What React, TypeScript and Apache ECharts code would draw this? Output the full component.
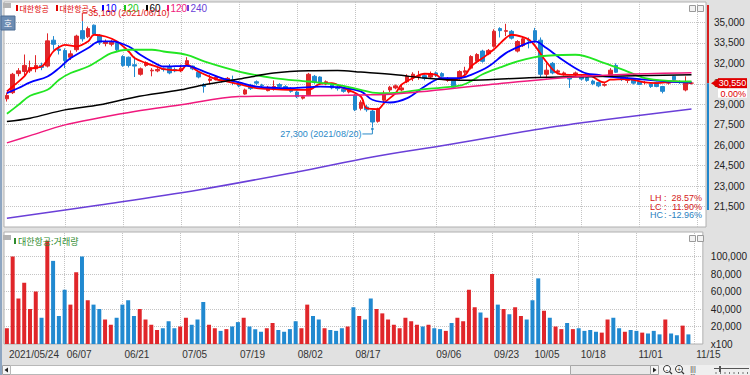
import React, { useEffect, useRef } from 'react';
import * as echarts from 'echarts';

// ---------------- DATA ----------------
const categories: string[] = [
  '05/24','05/25','05/26','05/27','05/28','05/31','06/01','06/02','06/03','06/04',
  '06/07','06/08','06/09','06/10','06/11','06/14','06/15','06/16','06/17','06/18',
  '06/21','06/22','06/23','06/24','06/25','06/28','06/29','06/30','07/01','07/02',
  '07/05','07/06','07/07','07/08','07/09','07/12','07/13','07/14','07/15','07/16',
  '07/19','07/20','07/21','07/22','07/23','07/26','07/27','07/28','07/29','07/30',
  '08/02','08/03','08/04','08/05','08/06','08/09','08/10','08/11','08/12','08/13',
  '08/17','08/18','08/19','08/20','08/23','08/24','08/25','08/26','08/27','08/30',
  '08/31','09/01','09/02','09/03','09/06','09/07','09/08','09/09','09/10','09/13',
  '09/14','09/15','09/16','09/17','09/23','09/24','09/27','09/28','09/29','09/30',
  '10/01','10/05','10/06','10/07','10/08','10/12','10/13','10/14','10/15','10/18',
  '10/19','10/20','10/21','10/22','10/25','10/26','10/27','10/28','10/29','11/01',
  '11/02','11/03','11/04','11/05','11/08','11/09','11/10','11/11','11/12','11/15',
  '11/16',
];
const tickDates = ['05/24','06/07','06/21','07/05','07/19','08/02','08/17','09/06','09/23','10/05','10/18','11/01','11/15'];
const firstTickLabel = '2021/05/24';
const yearPrefix = '2021/';

const opens = [
  29400,29850,31250,31400,31450,31600,31850,31800,33700,33050,
  32950,32450,33000,34400,33950,34800,34050,33450,33400,33500,
  32500,32450,31900,31200,31850,31450,31450,31600,31700,31550,
  31450,31950,31800,31350,30450,30750,30800,30850,30750,30800,
  30600,29750,30400,30650,30400,30000,30100,30450,30300,30150,
  29900,29450,29700,31050,31000,30500,30450,30200,30100,29900,
  29650,28700,28800,28500,27750,29300,30050,30200,30050,30650,
  30950,31050,31100,31000,31300,31250,30750,30750,30900,31350,
  31650,32150,32900,32700,33250,34550,34350,34350,32900,33300,
  33700,34400,33700,31200,32000,31350,31200,31050,31150,31050,
  30950,30700,30600,30400,31100,31850,30900,30750,30800,30650,
  30600,30500,30600,30300,30550,31050,30650,30050,30550,
];
const closes = [
  29650,31200,31450,31850,31700,31850,31700,33650,33400,32950,
  32200,32700,34000,33800,34550,34150,33550,33600,33550,33000,
  31850,31850,31800,31600,32050,31500,31550,31550,31300,31450,
  31650,32200,31600,31000,30300,30850,31000,30750,30900,30650,
  30350,30050,30150,30550,30350,30250,30300,30300,30150,29950,
  29550,29550,31200,30600,30550,30650,30200,30150,29950,30150,
  28600,29150,28600,27700,28650,29800,30250,30350,30200,31050,
  31200,31100,30900,31250,31150,31050,30900,30250,31400,31450,
  32500,32650,32150,32950,34350,34400,34400,33850,33600,33800,
  33650,33700,31200,31500,31300,31450,31300,30850,31300,30850,
  30750,30500,30350,30450,31500,31350,30850,30800,30550,30450,
  30600,30300,30300,29950,30600,30800,30600,30550,30550,
];
const lows = [
  29200,29750,31050,31100,31300,31350,31500,31700,33000,32650,
  31650,32250,32850,33600,33850,34000,33350,33250,33250,32900,
  31750,31700,31000,31100,31750,31050,31350,31400,31200,31350,
  31350,31900,31500,30900,29850,30450,30750,30600,30650,30400,
  30250,29700,30050,30400,30250,29950,30000,30200,30050,29850,
  29450,29350,29600,30500,30450,30400,30100,30000,29850,29800,
  28500,28550,28450,27300,27650,29150,29900,30100,29950,30550,
  30700,30800,30750,30850,31000,30950,30650,30150,30800,31000,
  31550,32050,32050,32600,33150,33900,34000,33750,32800,33200,
  33100,33500,31000,30900,31200,31200,31100,30200,31050,30750,
  30650,30400,30250,30300,31000,31300,30700,30550,30450,30400,
  30450,30200,30250,29800,30450,30750,30500,29950,30450,
];
const highs = [
  29850,31300,31650,32650,32200,32600,32050,34200,34000,33350,
  33100,32950,34100,35100,34700,34850,34150,33750,33700,33600,
  32600,32500,32500,31700,32150,31650,31650,31700,31950,31700,
  31900,32450,31850,31450,30550,31150,31100,30950,31000,31100,
  30700,30150,30500,30750,30500,30350,30750,30550,30400,30250,
  30000,29650,31300,31150,31050,30750,30550,30350,30250,30300,
  29750,29300,28950,28600,28750,30000,30350,30450,30400,31200,
  31350,31450,31250,31400,31400,31350,31000,30800,31500,31750,
  32600,32750,33000,33050,34500,34650,34900,34450,33700,33950,
  33900,34600,33900,32000,32100,31550,31400,31100,31400,31150,
  31050,30800,30650,30550,31650,32000,31000,31000,30850,30700,
  30700,30550,30650,30350,30700,31100,30750,31050,30650,
];
// volume, in units of 100 shares
const volumes = [
  18000,100000,52000,70000,40000,60000,30000,118000,95000,32000,
  62000,45000,82000,100000,50000,45000,40000,28000,22000,30000,
  45000,50000,32000,40000,28000,22000,16000,18000,26000,18000,
  20000,30000,22000,28000,48000,22000,18000,15000,17000,20000,
  25000,30000,20000,17000,14000,18000,24000,16000,14000,17000,
  26000,18000,45000,32000,28000,18000,16000,15000,18000,20000,
  42000,32000,28000,52000,40000,35000,28000,22000,18000,30000,
  26000,22000,20000,22000,18000,17000,15000,24000,30000,26000,
  62000,42000,36000,30000,80000,45000,40000,34000,42000,32000,
  28000,50000,75000,38000,30000,20000,17000,24000,17000,18000,
  15000,16000,14000,13000,28000,30000,18000,14000,16000,15000,
  13000,12000,15000,11000,28000,12000,10000,21000,11000,
];

// moving averages: [category index, price]
const ma5: [number, number][] = [
  [0,29940],[1,30300],[3,31040],[4,31580],[6,31770],[7,32260],[8,32870],[9,33190],[10,33360],[12,33240],
  [14,33610],[15,34100],[17,33970],[19,33610],[21,32870],[22,32390],[24,32020],[26,31730],[27,31580],[30,31480],
  [31,31900],[33,31400],[36,30850],[38,30670],[40,30480],[43,30190],[46,30110],[49,30060],[52,30060],[54,30500],
  [56,30550],[58,30190],[61,29570],[62,28720],[64,28650],[65,29090],[67,29820],[68,30430],[70,30920],[72,31240],
  [74,31160],[75,30850],[77,30800],[79,31160],[80,31770],[82,32390],[84,33050],[86,33860],[87,34100],[89,33930],
  [90,33730],[91,33300],[93,32100],[95,31250],[97,31160],[100,31160],[103,30600],[104,30800],[107,30850],[110,30600],
  [112,30550],[115,30670],[118,30550],
];
const ma10: [number, number][] = [
  [0,29820],[2,30190],[4,30600],[7,31040],[9,31650],[11,32390],[14,33120],[16,33610],[18,33610],[21,33240],
  [23,32630],[25,32140],[27,31770],[31,31820],[34,31400],[37,30920],[40,30600],[43,30300],[49,30190],[54,30300],
  [57,30260],[61,29940],[63,29330],[66,29130],[69,29450],[72,30300],[75,30920],[78,30920],[80,31160],[83,31770],
  [86,32750],[89,33360],[91,33610],[93,33120],[96,32190],[100,31240],[102,31160],[103,31040],[107,30920],[110,30800],
  [114,30670],[118,30600],
];
const ma20: [number, number][] = [
  [0,28300],[2,28960],[4,29620],[7,30060],[9,30800],[11,31290],[14,31770],[16,32260],[18,32750],[21,33000],
  [25,33000],[27,32870],[31,32630],[34,32140],[40,31400],[46,30920],[52,30670],[57,30430],[61,30060],[63,29860],
  [66,29820],[72,30110],[78,30360],[80,30700],[82,31200],[85,31700],[88,32150],[91,32460],[93,32560],[98,32630],
  [103,32020],[107,31400],[110,30920],[114,30720],[118,30670],
];
const ma60: [number, number][] = [
  [0,27740],[4,27980],[10,28590],[16,28960],[22,29520],[30,30060],[34,30430],[40,30850],[46,31290],[52,31460],
  [57,31480],[61,31360],[67,31160],[72,30920],[78,30760],[83,30800],[90,30950],[102,31040],[118,31160],
];
const ma120: [number, number][] = [
  [0,26170],[4,26700],[10,27490],[16,28010],[22,28470],[30,28960],[40,29570],[52,29620],[61,29680],[67,29750],
  [83,30430],[97,30980],[107,31200],[118,31310],
];
const ma240: [number, number][] = [
  [0,20650],[16,21620],[33,22720],[50,24040],[63,25140],[76,26030],[91,27130],[103,27860],[118,28660],
];

const priceMin = 20000;
const priceMax = 36500;
const priceStep = 1500;
const volMax = 128000;
const volStep = 20000;

// ---------------- STYLE ----------------
const UP = '#e0262a';
const DOWN = '#2189d0';
const MA_COLORS = ['#ff0000', '#0000ff', '#22e622', '#000000', '#f0197d', '#6a3fd8'];
const GRID_LINE = '#c4c4c4';
const NUM_FONT = 'Liberation Sans, Arial, sans-serif';
const KR_FONT = 'Noto Sans CJK KR, sans-serif';

const fmt = (v: number) => v.toLocaleString('en-US');

function buildOption(): any {
  const candleData = opens.map((o, i) => [o, closes[i], lows[i], highs[i]]);
  const volData = volumes.map((v, i) => {
    const up = closes[i] > opens[i] || (closes[i] === opens[i] && i > 0 && closes[i] > closes[i - 1]);
    return { value: v, itemStyle: { color: up ? UP : DOWN } };
  });
  const vLines = {
    silent: true,
    symbol: ['none', 'none'],
    label: { show: false },
    z: 1,
    lineStyle: { type: 'dotted', color: GRID_LINE, width: 1 },
    emphasis: { disabled: true },
    data: tickDates.slice(1).map((d) => ({ xAxis: d })),
  };
  const maList = [ma5, ma10, ma20, ma60, ma120, ma240];
  const maWidths = [1.8, 1.8, 1.8, 1.5, 1.5, 1.5];
  const maSeries = maList.map((d, k) => ({
    type: 'line',
    xAxisIndex: 0,
    yAxisIndex: 0,
    data: d,
    showSymbol: false,
    smooth: 0.35,
    silent: true,
    z: 4,
    lineStyle: { color: MA_COLORS[k], width: maWidths[k] },
  }));
  const priceSplitColors = ['rgba(0,0,0,0)'];
  for (let i = 0; i < 10; i++) priceSplitColors.push(GRID_LINE);
  priceSplitColors.push('rgba(0,0,0,0)');
  const volSplitColors = ['rgba(0,0,0,0)', GRID_LINE, GRID_LINE, GRID_LINE, GRID_LINE, GRID_LINE, 'rgba(0,0,0,0)', 'rgba(0,0,0,0)'];

  return {
    animation: false,
    backgroundColor: '#e1e1e1',
    grid: [
      { left: 4, right: 44, top: 2, height: 225, show: true, backgroundColor: '#ffffff', borderColor: '#b0b0b0', borderWidth: 1 },
      { left: 4, right: 44, top: 232, height: 112, show: true, backgroundColor: '#ffffff', borderColor: '#b0b0b0', borderWidth: 1 },
    ],
    xAxis: [
      {
        type: 'category', gridIndex: 0, data: categories, boundaryGap: true,
        axisLine: { show: false }, axisTick: { show: false }, axisLabel: { show: false }, splitLine: { show: false },
      },
      {
        type: 'category', gridIndex: 1, data: categories, boundaryGap: true,
        axisLine: { show: false }, axisTick: { show: false }, splitLine: { show: false },
        axisLabel: {
          show: true,
          interval: (_i: number, v: string) => tickDates.includes(v),
          formatter: (v: string) => (v === tickDates[0] ? firstTickLabel : v),
          align: 'left',
          padding: [0, 0, 0, 2],
          margin: 5,
          color: '#333333',
          fontSize: 10,
          fontFamily: NUM_FONT,
          hideOverlap: false,
        },
      },
    ],
    yAxis: [
      {
        type: 'value', gridIndex: 0, position: 'right', min: priceMin, max: priceMax, interval: priceStep,
        axisLine: { show: false }, axisTick: { show: false },
        axisLabel: {
          margin: 8, fontSize: 10, color: '#222222', fontFamily: NUM_FONT,
          formatter: (v: number) => (v <= priceMin || v >= priceMax ? '' : fmt(v)),
        },
        splitLine: { show: true, lineStyle: { type: 'dotted', color: priceSplitColors, width: 1 } },
      },
      {
        type: 'value', gridIndex: 1, position: 'right', min: 0, max: volMax, interval: volStep,
        axisLine: { show: false }, axisTick: { show: false },
        axisLabel: {
          margin: 8, fontSize: 10, color: '#222222', fontFamily: NUM_FONT,
          formatter: (v: number) => (v === 0 ? 'x100' : v > 100000 ? '' : fmt(v)),
        },
        splitLine: { show: true, lineStyle: { type: 'dotted', color: volSplitColors, width: 1 } },
      },
    ],
    series: [
      {
        type: 'candlestick',
        xAxisIndex: 0,
        yAxisIndex: 0,
        data: candleData,
        barWidth: 4,
        silent: true,
        z: 3,
        itemStyle: { color: UP, color0: DOWN, borderColor: UP, borderColor0: DOWN, borderColorDoji: UP, borderWidth: 1 },
        markLine: vLines,
      },
      ...maSeries,
      {
        type: 'bar',
        xAxisIndex: 1,
        yAxisIndex: 1,
        data: volData,
        barWidth: 4,
        silent: true,
        z: 3,
        markLine: vLines,
      },
    ],
  };
}

function txt(x: number, y: number, text: string, fill: string, size = 10, family = NUM_FONT, align = 'left', extra: any = {}) {
  return {
    type: 'text', x, y, z: 60, silent: true,
    style: { text, fill, fontSize: size, fontFamily: family, align, verticalAlign: 'middle', ...extra },
  };
}
function rect(x: number, y: number, w: number, h: number, fill: string, stroke?: string, z = 55) {
  return {
    type: 'rect', z, silent: true,
    shape: { x, y, width: w, height: h },
    style: stroke ? { fill, stroke, lineWidth: 1 } : { fill },
  };
}

function buildGraphics(chart: any): any[] {
  const px = (i: number, v: number) => chart.convertToPixel({ gridIndex: 0 }, [i, v]) as number[];
  const els: any[] = [];

  // left window border
  els.push(rect(0, 0, 2, 375, '#8ea6c2'));

  // legend row
  els.push(rect(3, 3, 8, 5, '#b4b4b4'));
  const legend: [number, string, string][] = [
    [16, '대한항공', '#e00000'],
    [56, '대한항공-5', '#e00000'],
    [102, '10', '#0000ff'],
    [124, '20', '#18c818'],
    [146, '60', '#000000'],
    [167, '120', '#f0197d'],
    [187, '240', '#6a3fd8'],
  ];
  legend.forEach(([x, label, color]) => {
    const isNum = /\d/.test(label[0]);
    els.push(rect(x, 5, 2, 6, color));
    els.push(txt(x + 3.5, 8.5, label, color, isNum ? 10 : 8, isNum ? NUM_FONT : KR_FONT));
  });
  // '호' button
  els.push(rect(1, 16, 14, 14, '#6d8db3', '#4d6d93'));
  els.push(txt(8, 23, '호', '#ffffff', 9, KR_FONT, 'center'));
  // mini buttons (price & volume panels)
  [5, 235].forEach((y) => {
    els.push(rect(689.5, y + 0.5, 6, 6, '#f2f2f2', '#9a9a9a'));
    els.push(rect(697.5, y + 0.5, 6, 6, '#f2f2f2', '#9a9a9a'));
  });

  // volume legend
  els.push(rect(3, 235, 8, 5, '#b4b4b4'));
  els.push(rect(14, 238, 2, 6, '#2e8b2e'));
  els.push(txt(18, 241, '대한항공:거래량', '#2e8b2e', 9, KR_FONT));

  // high / low annotations
  const maxH = Math.max(...highs);
  const hiIdx = highs.indexOf(maxH);
  const minL = Math.min(...lows);
  const loIdx = lows.indexOf(minL);
  const [hx, hy] = px(hiIdx, maxH);
  els.push({ type: 'polyline', z: 60, silent: true, shape: { points: [[hx, hy], [hx, hy - 8], [hx + 5, hy - 8]] }, style: { stroke: '#e02020', lineWidth: 1, fill: null } });
  els.push(txt(hx + 6, hy - 8, `${fmt(maxH)} (${yearPrefix}${categories[hiIdx]})`, '#e02020', 9));
  const [lx, ly] = px(loIdx, minL);
  els.push({ type: 'polyline', z: 60, silent: true, shape: { points: [[lx, ly + 1], [lx, ly + 6.5], [lx - 10, ly + 6.5]] }, style: { stroke: '#2a8ac8', lineWidth: 1, fill: null } });
  els.push({ type: 'circle', z: 60, silent: true, shape: { cx: lx, cy: ly + 1.5, r: 1.3 }, style: { fill: '#2a8ac8' } });
  els.push(txt(lx - 11, ly + 6.5, `${fmt(minL)} (${yearPrefix}${categories[loIdx]})`, '#2a8ac8', 9, NUM_FONT, 'right'));

  // LH / LC / HC
  const last = closes[closes.length - 1];
  const prev = closes[closes.length - 2];
  const stats: [string, number, string][] = [
    ['LH', (maxH / minL - 1) * 100, '#d42020'],
    ['LC', (last / minL - 1) * 100, '#d42020'],
    ['HC', (last / maxH - 1) * 100, '#2a7fc0'],
  ];
  stats.forEach(([k, v, c], n) => {
    const y = 198 + n * 8.5;
    els.push(txt(650, y, k, c, 9));
    els.push(txt(664, y, ':', c, 9));
    els.push(txt(702, y, v.toFixed(2) + '%', c, 9, NUM_FONT, 'right'));
  });

  // current price marker and range bar
  const [, yc] = px(0, last);
  els.push(rect(707, 5, 2, yc - 5, '#d81e1e', undefined, 58));
  els.push(rect(707, yc, 2, 210 - yc, '#1f86cc', undefined, 58));
  els.push({ type: 'polygon', z: 60, silent: true, shape: { points: [[711, yc], [718, yc - 4.5], [718, yc + 4.5]] }, style: { fill: '#e00000' } });
  els.push(rect(718, yc - 5, 29, 10, '#e00000', undefined, 59));
  els.push(txt(732.5, yc, fmt(last), '#ffffff', 9, NUM_FONT, 'center'));
  els.push(rect(718, yc + 5.5, 29, 9, '#ffffff', undefined, 59));
  const chg = ((last - prev) / prev) * 100;
  els.push(txt(746, yc + 11, chg.toFixed(2) + '%', '#e00000', 9, NUM_FONT, 'right'));

  // bottom scroll bar row
  els.push(rect(0, 365, 750, 10, '#efefef', undefined, 50));
  els.push(rect(2.5, 365.5, 8, 9, '#f6f6f6', '#a0a0a0'));
  els.push({ type: 'polygon', z: 60, silent: true, shape: { points: [[4.5, 370], [8, 367.5], [8, 372.5]] }, style: { fill: '#222' } });
  els.push(rect(10.5, 365.5, 640, 9, '#ffffff', '#b8b8b8'));
  els.push(rect(570.5, 365.5, 80, 9, '#e9e9e9', '#a8a8a8'));
  els.push(rect(650.5, 365.5, 8, 9, '#f6f6f6', '#a0a0a0'));
  els.push({ type: 'polygon', z: 60, silent: true, shape: { points: [[653, 367.5], [653, 372.5], [656.5, 370]] }, style: { fill: '#222' } });
  [667, 679].forEach((cx, n) => {
    els.push({ type: 'circle', z: 60, silent: true, shape: { cx, cy: 369, r: 3.5 }, style: { fill: '#fff', stroke: '#333', lineWidth: 1 } });
    els.push({ type: 'line', z: 60, silent: true, shape: { x1: cx + 2.5, y1: 371.5, x2: cx + 5, y2: 374 }, style: { stroke: '#333', lineWidth: 1.2 } });
    els.push(txt(cx, 369, n === 0 ? '-' : '+', '#333', 7, NUM_FONT, 'center'));
  });
  els.push(txt(693, 368, '|||', '#333', 7, NUM_FONT, 'center'));
  els.push(txt(693, 373, '↔', '#333', 7, NUM_FONT, 'center'));
  els.push({ type: 'line', z: 60, silent: true, shape: { x1: 714, y1: 368.5, x2: 749, y2: 368.5 }, style: { stroke: '#555', lineWidth: 1 } });
  els.push(rect(719, 366, 2, 6, '#555', undefined, 61));
  for (let k = 0; k < 8; k++) {
    els.push({ type: 'line', z: 60, silent: true, shape: { x1: 716 + k * 4.5, y1: 372, x2: 716 + k * 4.5, y2: 374 }, style: { stroke: '#777', lineWidth: 1 } });
  }
  return els;
}

export default function App() {
  const ref = useRef<HTMLDivElement>(null);
  useEffect(() => {
    document.body.style.margin = '0';
    const chart = echarts.init(ref.current as HTMLDivElement, undefined, { renderer: 'svg' });
    chart.setOption(buildOption());
    chart.setOption({ graphic: { elements: buildGraphics(chart) } });
    return () => chart.dispose();
  }, []);
  return <div ref={ref} style={{ width: 750, height: 375 }} />;
}
